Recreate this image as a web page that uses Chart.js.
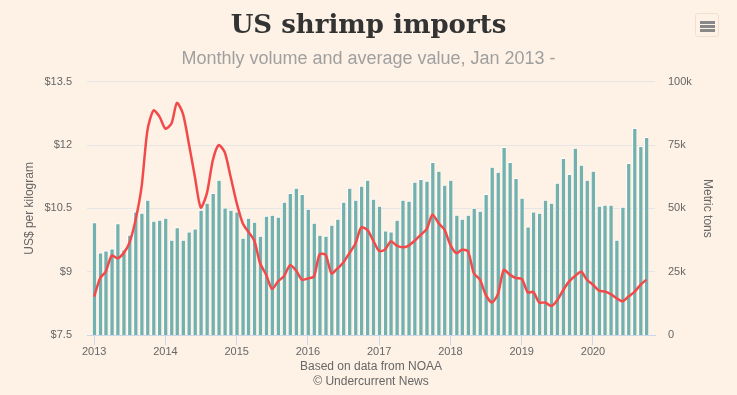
<!DOCTYPE html>
<html>
<head>
<meta charset="utf-8">
<script src="https://cdn.jsdelivr.net/npm/chart.js@4"></script>
<style>
  body { margin: 0; background: #fef2e6; }
  #wrap { position: relative; width: 737px; height: 395px; background: #fef2e6; }
  #menu { position: absolute; left: 695px; top: 13px; width: 24px; height: 24px; border: 1px solid #f1dfd0; border-radius: 3px; box-sizing: border-box; }
  #menu span { position: absolute; left: 4px; width: 15px; height: 2.5px; background: #888; }
</style>
</head>
<body>
<div id="wrap">
  <canvas id="chart"></canvas>
  <div id="menu"><span style="top:7px"></span><span style="top:11px"></span><span style="top:15px"></span></div>
</div>
<script>
// monthly, Jan 2013 - Oct 2020
const startYear = 2013;
const yearTicks = [2013, 2014, 2015, 2016, 2017, 2018, 2019, 2020];

// import volume, thousand metric tons
const volume = [
  44.4, 32.5, 33.2, 34.0, 44.0, 33.6, 39.5, 48.6, 48.2, 53.3, 45.0, 45.4,
  46.2, 37.5, 42.4, 37.5, 40.7, 41.9, 49.3, 52.1, 56.0, 61.2, 50.2, 49.3,
  48.6, 38.3, 46.2, 44.6, 39.1, 47.0, 47.4, 46.6, 52.5, 56.0, 58.0, 55.6,
  49.7, 44.2, 39.5, 39.1, 43.4, 45.8, 52.5, 58.0, 53.3, 58.8, 61.2, 53.7,
  50.9, 41.1, 40.7, 45.4, 53.3, 52.9, 60.4, 61.5, 60.8, 68.2, 64.7, 59.2,
  61.2, 47.4, 45.8, 47.4, 50.1, 48.9, 55.6, 66.3, 64.3, 74.1, 68.2, 61.9,
  54.1, 42.7, 48.6, 48.2, 53.3, 52.1, 60.0, 69.8, 63.5, 73.8, 67.1, 61.2,
  64.7, 50.9, 51.3, 51.3, 37.5, 50.5, 67.8, 81.6, 74.5, 78.1
];

// average value, US$ per kg
const price = [
  8.41, 8.85, 9.00, 9.38, 9.32, 9.44, 9.69, 10.22, 11.01, 12.35, 12.82, 12.68,
  12.39, 12.51, 13.00, 12.74, 12.04, 11.25, 10.52, 10.85, 11.64, 12.00, 11.83, 11.25,
  10.63, 10.15, 9.95, 9.74, 9.20, 8.93, 8.59, 8.77, 8.90, 9.15, 9.03, 8.81,
  8.84, 8.89, 9.41, 9.40, 8.96, 9.08, 9.22, 9.44, 9.67, 10.05, 9.99, 9.74,
  9.49, 9.53, 9.72, 9.62, 9.58, 9.62, 9.73, 9.87, 10.01, 10.35, 10.15, 10.00,
  9.63, 9.44, 9.52, 9.48, 8.96, 8.81, 8.45, 8.27, 8.47, 9.04, 8.93, 8.85,
  8.83, 8.51, 8.52, 8.27, 8.27, 8.19, 8.32, 8.56, 8.77, 8.90, 9.00, 8.81,
  8.69, 8.55, 8.53, 8.47, 8.37, 8.30, 8.41, 8.52, 8.69, 8.81
];

// month -> fractional year so bars sit on a date-like axis
function monthX(i) {
  const y = startYear + Math.floor(i / 12), m = i % 12;
  const start = Date.UTC(y, 0, 1), end = Date.UTC(y + 1, 0, 1);
  return y + (Date.UTC(y, m, 1) - start) / (end - start);
}
const xs = volume.map((v, i) => monthX(i));

const font = "'Liberation Sans', Arial, sans-serif";

new Chart(document.getElementById('chart'), {
  data: {
    datasets: [
      {
        type: 'line', label: 'Average value', yAxisID: 'y', order: 0,
        data: price.map((v, i) => ({x: xs[i], y: v})),
        borderColor: '#f24a4a', borderWidth: 2.5, pointRadius: 0, tension: 0.25, fill: false
      },
      {
        type: 'bar', label: 'Volume', yAxisID: 'y1', order: 1,
        data: volume.map((v, i) => ({x: xs[i], y: v * 1000})),
        backgroundColor: '#73b1af', borderColor: '#ffffff', borderWidth: {left: 1, right: 0, top: 1, bottom: 0},
        barThickness: 4
      }
    ]
  },
  options: {
    responsive: true, maintainAspectRatio: false, animation: false,
    layout: { padding: 0 },
    plugins: {
      legend: { display: false },
      tooltip: { enabled: false },
      title: {
        display: true, text: 'US shrimp imports', color: '#333333',
        font: { family: "'DejaVu Serif', Georgia, serif", size: 26, weight: 'bold', lineHeight: 1.2 },
        padding: { top: 11, bottom: 0 }
      },
      subtitle: {
        display: true, text: 'Monthly volume and average value, Jan 2013 -', color: '#9f9f9f',
        font: { family: font, size: 18, lineHeight: 1.2 },
        padding: { top: 6, bottom: 12 }
      }
    },
    scales: {
      x: {
        type: 'linear', min: 2012.9, max: 2020.87, offset: false,
        afterBuildTicks: s => { s.ticks = yearTicks.map(v => ({value: v})); },
        afterFit: s => { s.height = 60; },
        ticks: { color: '#666666', font: { family: font, size: 11 }, padding: 0, maxRotation: 0, autoSkip: false,
                 callback: v => String(v) },
        grid: { offset: false, drawOnChartArea: false, drawTicks: true, tickLength: 10, color: '#ccd6eb' },
        border: { display: true, color: '#ccd6eb' },
        title: { display: true, text: ['Based on data from NOAA', '© Undercurrent News'], color: '#666666',
                 font: { family: font, size: 12, lineHeight: 1.25 }, padding: { top: 0, bottom: 6 } }
      },
      y: {
        position: 'left', min: 7.5, max: 13.5,
        afterFit: s => { s.width = 87; },
        afterBuildTicks: s => { s.ticks = [7.5, 9, 10.5, 12, 13.5].map(v => ({value: v})); },
        ticks: { color: '#666666', font: { family: font, size: 11 }, padding: 15, callback: v => '$' + v },
        grid: { color: '#e6e6e6', drawTicks: false },
        border: { display: false },
        title: { display: true, text: 'US$ per kilogram', color: '#666666',
                 font: { family: font, size: 12 }, padding: { top: 22, bottom: 0 } }
      },
      y1: {
        position: 'right', min: 0, max: 100000,
        afterFit: s => { s.width = 82; },
        afterBuildTicks: s => { s.ticks = [0, 25000, 50000, 75000, 100000].map(v => ({value: v})); },
        ticks: { color: '#666666', font: { family: font, size: 11 }, padding: 13,
                 callback: v => v === 0 ? '0' : (v / 1000) + 'k' },
        grid: { display: false, drawTicks: false },
        border: { display: false },
        title: { display: true, text: 'Metric tons', color: '#666666',
                 font: { family: font, size: 12 }, padding: { top: 22, bottom: 0 } }
      }
    }
  }
});
</script>
</body>
</html>
